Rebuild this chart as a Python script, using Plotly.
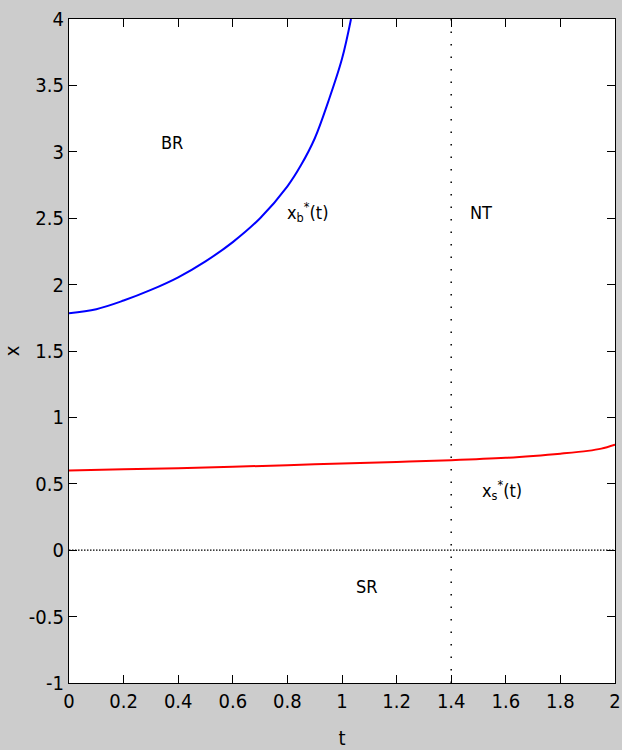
import plotly.graph_objects as go

# Data
t_b = [0.0, 0.1, 0.2, 0.3, 0.4, 0.5, 0.6, 0.7, 0.8, 0.85, 0.9, 0.95, 1.0, 1.033]
x_b = [1.784, 1.815, 1.88, 1.96, 2.055, 2.175, 2.32, 2.50, 2.74, 2.90, 3.10, 3.38, 3.70, 4.0]

t_s = [0.0, 0.2, 0.4, 0.6, 0.8, 1.0, 1.2, 1.4, 1.6, 1.7, 1.8, 1.9, 1.95, 2.0]
x_s = [0.60, 0.61, 0.618, 0.628, 0.64, 0.653, 0.665, 0.678, 0.696, 0.710, 0.727, 0.748, 0.765, 0.795]

t_nt = 1.4
x_ticks = [0, 0.2, 0.4, 0.6, 0.8, 1, 1.2, 1.4, 1.6, 1.8, 2]
x_ticklabels = ["0", "0.2", "0.4", "0.6", "0.8", "1", "1.2", "1.4", "1.6", "1.8", "2"]
y_ticks = [-1, -0.5, 0, 0.5, 1, 1.5, 2, 2.5, 3, 3.5, 4]
y_ticklabels = ["-1", "-0.5", "0", "0.5", "1", "1.5", "2", "2.5", "3", "3.5", "4"]

labels = ["BR", "x<sub>b</sub><sup>*</sup>(t)", "NT", "x<sub>s</sub><sup>*</sup>(t)", "SR"]
label_t = [0.377, 0.875, 1.51, 1.585, 1.09]
label_x = [3.07, 2.55, 2.54, 0.45, -0.27]

FONT = "DejaVu Sans Condensed, Liberation Sans Narrow, sans-serif"

fig = go.Figure()
fig.add_trace(go.Scatter(x=t_b, y=x_b, mode="lines", line_shape="spline",
                         line=dict(color="#0000ff", width=2), showlegend=False))
fig.add_trace(go.Scatter(x=t_s, y=x_s, mode="lines", line_shape="spline",
                         line=dict(color="#ff0000", width=2), showlegend=False))
# horizontal dotted zero line
fig.add_trace(go.Scatter(x=[x_ticks[0], x_ticks[-1]], y=[0, 0], mode="lines",
                         line=dict(color="black", width=1.3, dash="1.5px,1.5px"), showlegend=False))
# vertical dotted line at t = 1.4
fig.add_trace(go.Scatter(x=[t_nt, t_nt], y=[y_ticks[0], y_ticks[-1]], mode="lines",
                         line=dict(color="black", width=1.5, dash="1.5px,11px"), showlegend=False))

for txt, tx, ty in zip(labels, label_t, label_x):
    fig.add_annotation(x=tx, y=ty, text=txt, showarrow=False,
                       font=dict(family=FONT, size=18, color="black"))

axis_common = dict(showgrid=False, zeroline=False, showline=True, linecolor="black",
                   linewidth=1.3, mirror="ticks", ticks="inside", ticklen=8,
                   tickwidth=1, tickcolor="black", automargin=False,
                   tickfont=dict(family=FONT, size=20, color="black"))

fig.update_xaxes(range=[0, 2], tickvals=x_ticks, ticktext=x_ticklabels,
                 title=dict(text="t", font=dict(family=FONT, size=20, color="black"), standoff=18),
                 **axis_common)
fig.update_yaxes(range=[-1, 4], tickvals=y_ticks, ticktext=y_ticklabels,
                 title=dict(text="x", font=dict(family=FONT, size=20, color="black"), standoff=14),
                 **axis_common)

fig.update_layout(width=622, height=750, paper_bgcolor="#cccccc", plot_bgcolor="white",
                  margin=dict(l=69, r=7, t=19, b=67, autoexpand=False), showlegend=False)

fig.write_html("out.html")
